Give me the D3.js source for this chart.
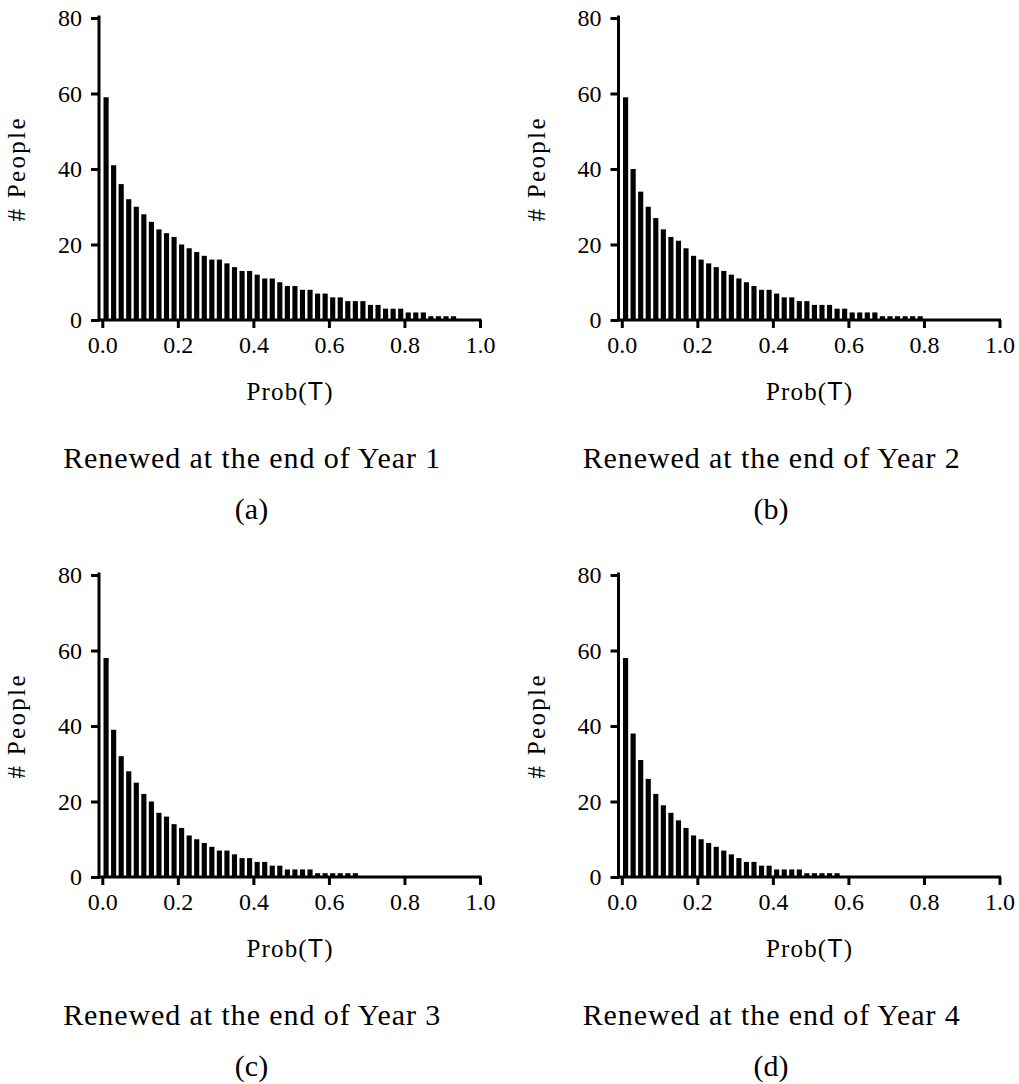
<!DOCTYPE html>
<html>
<head>
<meta charset="utf-8">
<script src="https://cdn.jsdelivr.net/npm/d3@7"></script>
<style>
  body { margin: 0; background: #fff; }
  text { font-family: "Liberation Serif", "Times New Roman", serif; fill: #000; }
</style>
</head>
<body>
<script>
// Histogram counts per 0.02-wide bin of Prob(T)
var binWidth = 0.02;
var year1 = [59, 41, 36, 32, 30, 28, 26, 24, 23, 22, 20, 19, 18, 17, 16, 16, 15, 14, 13, 13,
             12, 11, 11, 10, 9, 9, 8, 8, 7, 7, 6, 6, 5, 5, 5, 4, 4, 3, 3, 3,
             2, 2, 2, 1, 1, 1, 1];
var year2 = [59, 40, 34, 30, 27, 24, 22, 21, 19, 17, 16, 15, 14, 13, 12, 11, 10, 9, 8, 8,
             7, 6, 6, 5, 5, 4, 4, 4, 3, 3, 2, 2, 2, 2, 1, 1, 1, 1, 1, 1];
var year3 = [58, 39, 32, 28, 25, 22, 20, 17, 16, 14, 13, 11, 10, 9, 8, 7, 7, 6, 5, 5,
             4, 4, 3, 3, 2, 2, 2, 2, 1, 1, 1, 1, 1, 1];
var year4 = [58, 38, 31, 26, 22, 19, 17, 15, 13, 11, 10, 9, 8, 7, 6, 5, 4, 4, 3, 3,
             2, 2, 2, 2, 1, 1, 1, 1, 1];

var xTicks = [0, 0.2, 0.4, 0.6, 0.8, 1.0];
var yTicks = [0, 20, 40, 60, 80];
var titles = ["Renewed at the end of Year 1", "Renewed at the end of Year 2",
              "Renewed at the end of Year 3", "Renewed at the end of Year 4"];
var letters = ["(a)", "(b)", "(c)", "(d)"];
var series = [year1, year2, year3, year4];

var width = 1019, height = 1084;
var svg = d3.select("body").append("svg")
  .attr("width", width)
  .attr("height", height);

// panel layout
var offsets = [[0, 0], [519.5, 0], [0, 557], [519.5, 557]];
var axisX = 99;
var x = d3.scaleLinear().domain([0, 1]).range([102.3, 480]);
var y = d3.scaleLinear().domain([0, 80]).range([320, 18]);
var lw = 3;

series.forEach(function(data, k) {
  var g = svg.append("g")
    .attr("transform", "translate(" + offsets[k][0] + "," + offsets[k][1] + ")");

  // bars
  var bw = (x(binWidth) - x(0)) * 0.68;
  g.selectAll("rect.bar")
    .data(data)
    .enter().append("rect")
    .attr("class", "bar")
    .attr("x", function(d, i) { return x(i * binWidth + binWidth / 2) - bw / 2; })
    .attr("y", function(d) { return y(d); })
    .attr("width", bw)
    .attr("height", function(d) { return y(0) - y(d); })
    .attr("fill", "#000");

  // y axis
  var ya = g.append("g")
    .attr("transform", "translate(" + axisX + ",0)")
    .call(d3.axisLeft(y).tickValues(yTicks).tickFormat(d3.format(".0f"))
      .tickSize(8).tickPadding(9));
  ya.select(".domain").remove();
  ya.selectAll(".tick line").attr("stroke-width", lw);
  ya.selectAll(".tick text").style("font-size", "24px").attr("font-family", null);

  // x axis
  var xa = g.append("g")
    .attr("transform", "translate(0," + y(0) + ")")
    .call(d3.axisBottom(x).tickValues(xTicks).tickFormat(d3.format(".1f"))
      .tickSize(8).tickPadding(8));
  xa.select(".domain").remove();
  xa.selectAll(".tick line").attr("stroke-width", lw);
  xa.selectAll(".tick text").style("font-size", "24px").attr("font-family", null);

  // axis lines
  g.append("line")
    .attr("x1", axisX).attr("x2", axisX)
    .attr("y1", y(0)).attr("y2", y(80) - 1)
    .attr("stroke", "#000").attr("stroke-width", lw).attr("stroke-linecap", "square");
  g.append("line")
    .attr("x1", axisX).attr("x2", x(1))
    .attr("y1", y(0)).attr("y2", y(0))
    .attr("stroke", "#000").attr("stroke-width", lw).attr("stroke-linecap", "square");

  // axis titles
  var xl = g.append("text")
    .attr("x", 289.5).attr("y", 400)
    .attr("text-anchor", "middle")
    .attr("textLength", 86).attr("lengthAdjust", "spacing")
    .style("font-size", "25px");
  xl.append("tspan").text("Prob(");
  xl.append("tspan").style("font-family", "'Liberation Sans', Arial, sans-serif").text("T");
  xl.append("tspan").text(")");

  g.append("text")
    .attr("transform", "translate(25,170) rotate(-90)")
    .attr("text-anchor", "middle")
    .attr("textLength", 103).attr("lengthAdjust", "spacing")
    .style("font-size", "25px")
    .text("# People");

  // caption
  g.append("text")
    .attr("x", 251.7).attr("y", 468.3)
    .attr("text-anchor", "middle")
    .attr("textLength", 377).attr("lengthAdjust", "spacing")
    .style("font-size", "30px")
    .text(titles[k]);
  g.append("text")
    .attr("x", 251.5).attr("y", 519)
    .attr("text-anchor", "middle")
    .style("font-size", "30px")
    .text(letters[k]);
});
</script>
</body>
</html>
